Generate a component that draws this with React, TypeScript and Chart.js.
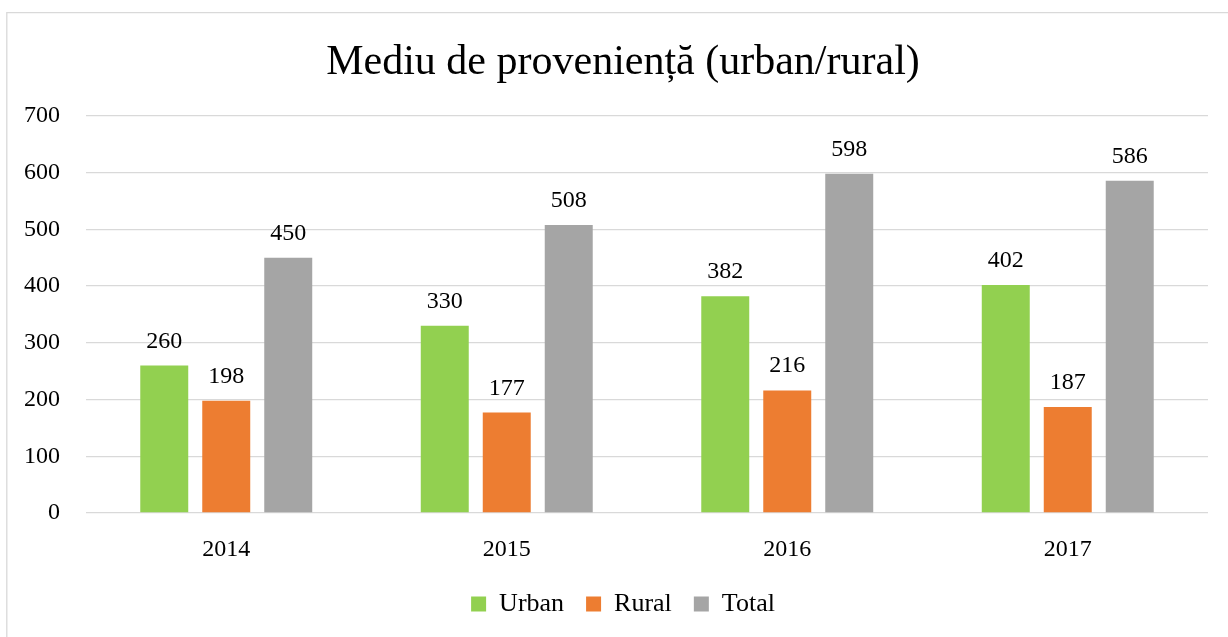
import React, { useEffect, useRef } from "react";
import { Chart, registerables } from "chart.js";

Chart.register(...registerables);

const categories = ["2014", "2015", "2016", "2017"];
const urbanValues = [260, 330, 382, 402];
const ruralValues = [198, 177, 216, 187];
const totalValues = [450, 508, 598, 586];
const seriesNames = ["Urban", "Rural", "Total"];
const titleText = "Mediu de proveniență (urban/rural)";

const FONT = "'Liberation Serif', 'Times New Roman', serif";

const borderPlugin = {
  id: "outerBorder",
  afterUpdate(chart: any) {
    const y = chart.scales && chart.scales.y;
    if (y) y._computeLabelArea = () => undefined;
  },
  beforeDraw(chart: any) {
    const ctx = chart.ctx;
    ctx.save();
    ctx.fillStyle = "#ffffff";
    ctx.fillRect(0, 0, chart.width, chart.height);
    ctx.strokeStyle = "#d9d9d9";
    ctx.lineWidth = 1.3;
    ctx.beginPath();
    ctx.moveTo(6.8, chart.height + 5);
    ctx.lineTo(6.8, 12.6);
    ctx.lineTo(chart.width + 5, 12.6);
    ctx.stroke();
    ctx.restore();
  },
};

const valueLabelPlugin = {
  id: "valueLabels",
  afterDatasetsDraw(chart: any) {
    const ctx = chart.ctx;
    ctx.save();
    ctx.font = `24px ${FONT}`;
    ctx.fillStyle = "#000000";
    ctx.textAlign = "center";
    ctx.textBaseline = "alphabetic";
    chart.data.datasets.forEach((ds: any, i: number) => {
      const meta = chart.getDatasetMeta(i);
      meta.data.forEach((el: any, j: number) => {
        ctx.fillText(String(ds.data[j]), el.x, el.y - 18);
      });
    });
    ctx.restore();
  },
};

export default function App() {
  const canvasRef = useRef<HTMLCanvasElement | null>(null);

  useEffect(() => {
    if (!canvasRef.current) return;
    const chart = new Chart(canvasRef.current, {
      type: "bar",
      data: {
        labels: categories,
        datasets: [
          { label: seriesNames[0], data: urbanValues, backgroundColor: "#92d050" },
          { label: seriesNames[1], data: ruralValues, backgroundColor: "#ed7d31" },
          { label: seriesNames[2], data: totalValues, backgroundColor: "#a5a5a5" },
        ],
      },
      options: {
        animation: false,
        responsive: false,
        maintainAspectRatio: false,
        datasets: {
          bar: { categoryPercentage: 0.663, barPercentage: 0.774, borderWidth: 0 },
        },
        layout: { padding: { left: 38, right: 20, top: 0, bottom: 10 } },
        plugins: {
          title: {
            display: true,
            text: titleText,
            color: "#000000",
            font: { family: FONT, size: 42, weight: "normal" },
            padding: { top: 38, bottom: 27.6 },
          },
          legend: {
            display: true,
            position: "bottom",
            labels: {
              color: "#000000",
              font: { family: FONT, size: 26 },
              boxWidth: 15,
              boxHeight: 15,
              padding: 22,
            },
          },
          tooltip: { enabled: false },
        },
        scales: {
          x: {
            afterFit(scale: any) {
              scale.height = 56;
            },
            grid: { display: false, drawTicks: false },
            border: { display: false },
            ticks: { color: "#000000", font: { family: FONT, size: 24 }, padding: 22 },
          },
          y: {
            min: 0,
            max: 700,
            afterFit(scale: any) {
              scale.width = 48;
            },
            grid: { color: "#d9d9d9", lineWidth: 1.3, drawTicks: false },
            border: { display: false },
            ticks: {
              stepSize: 100,
              color: "#000000",
              font: { family: FONT, size: 24 },
              padding: 26,
            },
          },
        },
      },
      plugins: [borderPlugin, valueLabelPlugin],
    });
    return () => chart.destroy();
  }, []);

  return (
    <div style={{ position: "fixed", left: 0, top: 0, width: 1228, height: 637 }}>
      <canvas ref={canvasRef} width={1228} height={637} style={{ width: 1228, height: 637 }} />
    </div>
  );
}
